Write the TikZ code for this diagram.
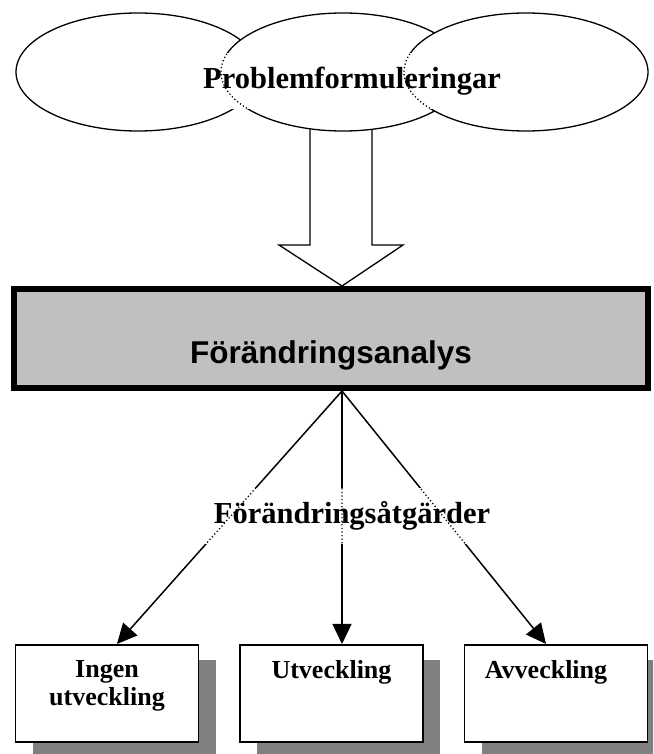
\documentclass[tikz,border=0pt]{standalone}
\usepackage{fontspec}
\setmainfont{Liberation Serif}
\newfontfamily\headsans{Liberation Sans}
\usetikzlibrary{arrows.meta,shapes.geometric,shadows,calc}
\definecolor{panelgray}{HTML}{C0C0C0}
\definecolor{shadegray}{HTML}{808080}
\begin{document}
\begin{tikzpicture}[x=1pt,y=-1pt,
  cloud/.style={ellipse, draw, line width=1.3pt, fill=white,
    minimum width=244pt, minimum height=118pt, inner sep=0pt},
  bigtext/.style={font=\fontsize{30.5}{32}\selectfont\bfseries,
    text height=22pt, text depth=7pt, inner sep=0pt, fill=white},
  hidden/.style={line width=1.3pt, dash pattern=on 1.2pt off 2.4pt},
  analysis/.style={draw, line width=6pt, fill=panelgray,
    minimum width=634pt, minimum height=99pt, inner sep=0pt},
  outcome/.style={draw, line width=1.6pt, fill=white,
    minimum width=183pt, minimum height=97.5pt, inner sep=0pt,
    drop shadow={shadow xshift=17pt, shadow yshift=-15pt,
      fill=shadegray, opacity=1}},
  outtext/.style={font=\fontsize{26}{28}\selectfont\bfseries,
    align=center, inner sep=0pt, anchor=north},
  link/.style={line width=1.5pt, -{Triangle[length=20pt,width=19pt]}},
  blockarrow/.style={draw, line width=1.3pt, fill=white, line join=miter}
]
\useasboundingbox (0,0) rectangle (653,754);
\clip (0,0) rectangle (653,754);

% wide hollow arrow from the problem cloud down to the analysis panel
\coordinate (head) at (342,286);
\draw[blockarrow] (310,118) -- (310,245) -- (279,245) -- (head)
  -- (403,245) -- (372,245) -- (372,118);

% three overlapping ellipses
\node[cloud] (e1) at (138,72) {};
\node[cloud] (e2) at (343,72) {};
\node[cloud] (e3) at (526,72) {};
\node[bigtext, minimum width=308pt, minimum height=56pt] (prob) at (352,81.5)
  {Problemformuleringar};
\begin{scope}
  \clip (prob.north west) rectangle (prob.south east -| e2.center);
  \draw[hidden] (e2.center) ellipse [x radius=122pt, y radius=59pt];
\end{scope}
\begin{scope}
  \clip (prob.north west) rectangle (prob.south east);
  \draw[hidden] (e3.center) ellipse [x radius=122pt, y radius=59pt];
\end{scope}

% analysis panel
\node[analysis] (fa) at (331,338.5) {};
\node[font=\headsans\fontsize{31.5}{32}\selectfont\bfseries, inner sep=0pt,
  anchor=base] (fatext) at (331,363) {Förändringsanalys};

% outcome boxes
\node[outcome] (b1) at (107,693.5) {};
\node[outcome] (b2) at (331.5,693.5) {};
\node[outcome] (b3) at (556,693.5) {};
\node[outtext] (t1) at (107,660.5) {Ingen\\utveckling};
\node[outtext] (t2) at (331.5,660.5) {Utveckling};
\node[outtext] (t3) at (546,660.5) {Avveckling};

% connectors
\coordinate (src) at ($(fa.south)+(11,0)$);
\coordinate (in1) at (b1.north -| 117,0);
\coordinate (in2) at (b2.north -| 342,0);
\coordinate (in3) at (b3.north -| 546,0);
\draw[link] (src) -- (in1);
\draw[link] (src) -- (in2);
\draw[link] (src) -- (in3);

\node[bigtext, minimum width=310pt, minimum height=56pt] (acts) at (352,515.5)
  {Förändringsåtgärder};
\begin{scope}
  \clip (acts.north west) rectangle (acts.south east);
  \draw[hidden] (src) -- (in1) (src) -- (in2) (src) -- (in3);
\end{scope}
\end{tikzpicture}
\end{document}
